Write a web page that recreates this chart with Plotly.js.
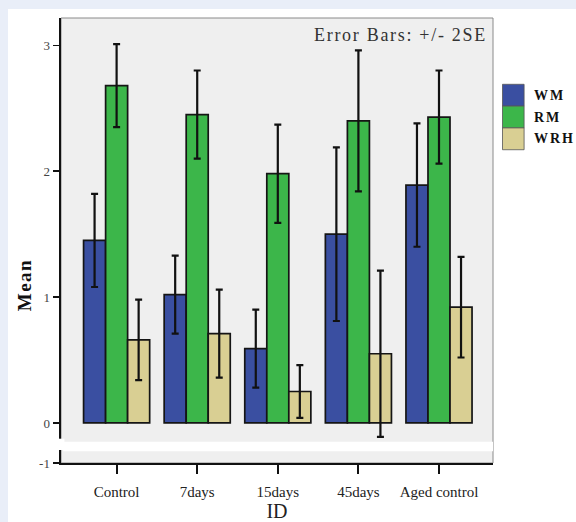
<!DOCTYPE html>
<html>
<head>
<meta charset="utf-8">
<script src="https://cdn.plot.ly/plotly-3.0.1.min.js"></script>
<style>
  html, body { margin: 0; padding: 0; background: #e9eef8; width: 576px; height: 522px; overflow: hidden; }
  #chart { position: absolute; left: 8px; top: 9px; width: 568px; height: 513px; background: #ffffff; }
</style>
</head>
<body>
<div id="chart"></div>
<script>
// ---- data ----
const categories = ["Control", "7days", "15days", "45days", "Aged control"];
const seriesNames = ["WM", "RM", "WRH"];
const wmMean  = [1.45, 1.02, 0.59, 1.50, 1.89];
const rmMean  = [2.68, 2.45, 1.98, 2.40, 2.43];
const wrhMean = [0.66, 0.71, 0.25, 0.55, 0.92];
const wmErr   = [0.37, 0.31, 0.31, 0.69, 0.49];
const rmErr   = [0.33, 0.35, 0.39, 0.56, 0.37];
const wrhErr  = [0.32, 0.35, 0.21, 0.66, 0.40];
const yTickVals = [-0.318, 0, 1, 2, 3];
const yTickText = ["-1", "0", "1", "2", "3"];
const annotationText = "Error Bars: +/- 2SE";
const xTitle = "ID";
const yTitle = "Mean";

const colors = ["#3a4fa1", "#3cb64a", "#d9cf93"];
const serif = "Liberation Serif, Times New Roman, serif";

const means = [wmMean, rmMean, wrhMean];
const errs = [wmErr, rmErr, wrhErr];

const traces = seriesNames.map((name, i) => ({
  type: "bar",
  name: name,
  x: categories.map((c, k) => k),
  y: means[i],
  marker: { color: colors[i], line: { color: "#151515", width: 1.7 } },
  error_y: { type: "data", array: errs[i], visible: true, color: "#111111", thickness: 2.2, width: 3.5 },
  showlegend: false,
  hoverinfo: "y"
}));

// legend drawn as shapes + annotations to match the large swatches
const legTop = 0.851, legStep = 0.049;
const legendShapes = seriesNames.map((n, i) => ({
  type: "rect", xref: "paper", yref: "paper",
  x0: 1.022, x1: 1.072,
  y0: legTop - legStep * (i + 1), y1: legTop - legStep * i,
  fillcolor: colors[i], line: { color: "#555555", width: 0.8 }
}));
const legendAnn = seriesNames.map((n, i) => ({
  xref: "paper", yref: "paper",
  x: 1.09, y: legTop - legStep * (i + 0.5),
  xanchor: "left", yanchor: "middle", showarrow: false,
  text: "<span style=\"letter-spacing:2px\"><b>" + n + "</b></span>",
  font: { family: serif, size: 14, color: "#111111" }
}));

const layout = {
  width: 568, height: 513,
  margin: { l: 53, r: 83, t: 9, b: 59 },
  paper_bgcolor: "#ffffff",
  plot_bgcolor: "#efefef",
  barmode: "group",
  bargap: 0.18,
  bargroupgap: 0,
  xaxis: {
    range: [-0.69, 4.67],
    tickmode: "array",
    tickvals: categories.map((c, k) => k),
    ticktext: categories,
    ticks: "outside", ticklen: 9, tickwidth: 2.2, tickcolor: "#111111",
    showline: true, linecolor: "#111111", linewidth: 2.2,
    showgrid: false, zeroline: false,
    tickfont: { family: serif, size: 15, color: "#222222" },
    ticklabelstandoff: 5,
    title: { text: xTitle, font: { family: serif, size: 20, color: "#222222" }, standoff: 11 }
  },
  yaxis: {
    range: [-0.318, 3.217],
    tickmode: "array",
    tickvals: yTickVals,
    ticktext: yTickText,
    ticks: "outside", ticklen: 6, tickwidth: 1.5, tickcolor: "#111111",
    showline: true, linecolor: "#111111", linewidth: 2.5,
    showgrid: false, zeroline: false,
    tickfont: { family: serif, size: 13, color: "#444444" }
  },
  shapes: [
    // thin frame top/right
    { type: "rect", xref: "paper", yref: "paper", x0: 0, x1: 1, y0: 0, y1: 1,
      line: { color: "#8a8a8a", width: 1 }, layer: "below" },
    // axis break band
    { type: "rect", xref: "paper", yref: "y", x0: 0.005, x1: 1, y0: -0.225, y1: -0.15,
      fillcolor: "#ffffff", line: { width: 0 }, layer: "above" },
    // gap in the y-axis line
    { type: "rect", xref: "paper", yref: "y", x0: -0.02, x1: 0.008, y0: -0.215, y1: -0.125,
      fillcolor: "#ffffff", line: { width: 0 }, layer: "above" }
  ].concat(legendShapes),
  annotations: [
    { xref: "paper", yref: "paper", x: 0.99, y: 0.988, xanchor: "right", yanchor: "top",
      showarrow: false, text: "<span style=\"letter-spacing:1.7px\">" + annotationText + "</span>",
      font: { family: serif, size: 18, color: "#333333" } },
    { xref: "paper", yref: "paper", x: -0.085, y: 0.40, xanchor: "center", yanchor: "middle",
      textangle: -90, showarrow: false,
      text: "<span style=\"letter-spacing:1.5px\"><b>" + yTitle + "</b></span>",
      font: { family: serif, size: 19, color: "#111111" } }
  ].concat(legendAnn)
};

Plotly.newPlot("chart", traces, layout, { displayModeBar: false, staticPlot: true });
</script>
</body>
</html>
